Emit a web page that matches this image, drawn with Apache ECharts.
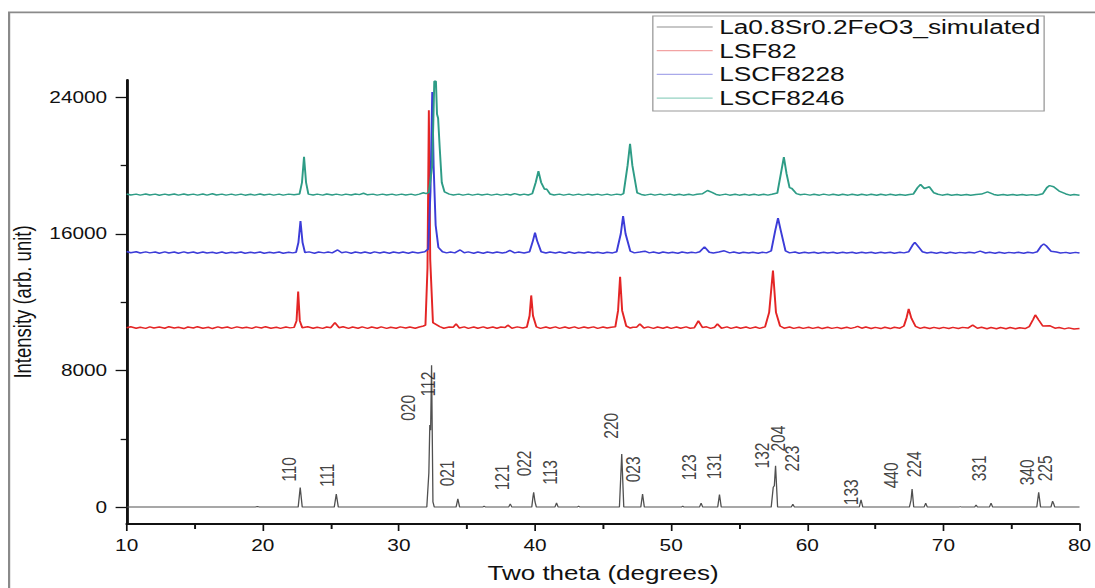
<!DOCTYPE html>
<html><head><meta charset="utf-8">
<script src="https://cdn.jsdelivr.net/npm/echarts@6/dist/echarts.min.js"></script>
<style>
html,body{margin:0;padding:0;background:#fff;overflow:hidden;width:1095px;height:588px}
#wrap{width:1095px;height:588px;overflow:hidden;position:relative;background:#fff}
#chart{width:842px;height:588px;transform:scaleX(1.30047);transform-origin:0 0;}
</style></head><body><div id="wrap"><div id="chart"></div></div>
<script>
// ---------------- data (2θ in degrees, intensity in arb. units) ----------------
const seriesNames = ['La0.8Sr0.2FeO3_simulated', 'LSF82', 'LSCF8228', 'LSCF8246'];

const simulated = [[10,0],[19.45,0],[19.6,30],[19.75,0],[22.6,0],[22.75,1150],[22.9,0],[25.25,0],[25.4,760],[25.55,0],
[32.05,0],[32.2,2000],[32.27,4800],[32.33,4500],[32.4,8300],[32.5,300],[32.6,0],[34.2,0],[34.33,480],[34.46,0],
[36.15,0],[36.26,60],[36.37,0],[38.06,0],[38.18,190],[38.3,0],[39.76,0],[39.85,600],[39.9,870],[40.0,300],[40.1,0],
[41.46,0],[41.58,250],[41.7,0],[43.1,0],[43.2,50],[43.3,0],[46.2,0],[46.37,3100],[46.52,0],[47.77,0],[47.9,770],[48.03,0],
[50.75,0],[50.85,60],[50.95,0],[52.08,0],[52.2,230],[52.32,0],[53.42,0],[53.55,740],[53.68,0],
[57.35,0],[57.5,1160],[57.58,1250],[57.67,2420],[57.82,0],[58.82,0],[58.94,170],[59.06,0],[63.82,0],[63.95,430],[64.08,0],
[67.5,0],[67.62,400],[67.7,1060],[67.82,0],[68.58,0],[68.7,230],[68.82,0],[71.14,0],[71.24,30],[71.34,0],
[72.3,0],[72.4,120],[72.5,0],[73.38,0],[73.5,230],[73.62,0],[76.86,0],[77.0,870],[77.14,0],[77.9,0],[78.02,350],[78.1,200],[78.18,0],[80,0]];

const lsf82 = [[10,10500],[10.3,10560],[10.7,10470],[11,10530],[11.4,10460],[11.7,10550],[12,10480],[12.4,10540],[12.8,10470],[13.1,10560],[13.5,10480],[13.8,10530],[14.2,10450],[14.5,10540],[14.9,10480],[15.2,10560],[15.6,10470],[16,10530],[16.3,10450],[16.7,10550],[17,10480],[17.4,10540],[17.7,10460],[18.1,10550],[18.5,10480],[18.8,10530],[19.2,10460],[19.5,10550],[19.9,10480],[20.2,10560],[20.6,10470],[21,10530],[21.3,10460],[21.7,10540],[22,10490],
[22.3,10520],[22.48,10900],[22.6,12620],[22.72,10900],[22.9,10500],[23.3,10560],[23.7,10470],[24,10530],[24.4,10460],[24.7,10540],[25.0,10500],[25.3,10800],[25.6,10500],[25.9,10560],[26.3,10460],[26.6,10540],[27,10470],[27.3,10550],[27.7,10460],[28,10540],[28.4,10470],[28.7,10550],[29.1,10460],[29.4,10530],[29.8,10470],[30.1,10550],[30.5,10480],[30.8,10540],[31.2,10470],[31.5,10540],[31.8,10600],
[31.95,10650],[32.1,14000],[32.2,23230],[32.3,14500],[32.5,10800],[33,10560],[33.3,10470],[33.7,10540],
[34.0,10530],[34.2,10720],[34.45,10480],[34.8,10550],[35.1,10460],[35.5,10540],[35.8,10470],[36.2,10550],[36.5,10470],[36.9,10540],[37.2,10470],[37.5,10540],[37.8,10510],[38.0,10650],[38.3,10470],[38.7,10550],[39.1,10480],
[39.4,10540],[39.6,11200],[39.72,12390],[39.85,11200],[40.1,10550],[40.4,10460],[40.8,10540],[41.1,10470],[41.5,10550],[41.8,10460],[42.2,10540],[42.5,10470],[42.9,10550],[43.2,10460],[43.6,10540],[43.9,10480],[44.3,10550],[44.6,10460],[45,10540],[45.3,10480],[45.6,10530],
[45.9,10550],[46.1,11500],[46.25,13480],[46.4,11500],[46.7,10600],[47.0,10480],[47.2,10530],[47.45,10520],[47.7,10720],[48,10480],[48.3,10550],[48.7,10460],[49,10540],[49.4,10470],[49.7,10540],
[50,10460],[50.4,10540],[50.7,10470],[51.1,10550],[51.4,10470],[51.7,10500],[52.0,10900],[52.3,10510],[52.6,10550],[52.9,10460],[53.2,10530],[53.4,10720],[53.7,10470],[54.1,10550],[54.4,10460],[54.8,10540],[55.1,10470],[55.5,10540],[55.8,10460],[56.2,10540],[56.5,10460],[56.9,10550],
[57.2,11400],[57.48,13850],[57.7,11400],[58.0,10600],[58.3,10470],[58.7,10540],[59,10460],[59.4,10530],[59.7,10460],[60.1,10530],[60.4,10460],[60.8,10530],[61.1,10450],[61.5,10530],[61.8,10460],[62.2,10520],[62.5,10450],[62.9,10530],[63.2,10460],[63.5,10520],[63.7,10580],[64,10470],[64.3,10540],[64.7,10450],[65,10520],[65.4,10450],[65.7,10530],[66.1,10450],[66.4,10530],[66.8,10470],
[67.1,10600],[67.3,11100],[67.45,11600],[67.65,11050],[67.95,10580],[68.3,10460],[68.6,10530],[69,10450],[69.3,10520],[69.7,10450],[70,10520],[70.4,10450],[70.7,10520],[71.1,10450],[71.4,10520],[71.8,10480],[72.15,10650],[72.5,10470],
[72.8,10530],[73.2,10440],[73.5,10510],[73.9,10440],[74.2,10510],[74.6,10440],[74.9,10510],[75.3,10440],[75.6,10500],[76,10450],[76.3,10560],[76.6,11000],[76.75,11250],[77.0,10950],[77.3,10600],[77.8,10620],[78.2,10470],[78.5,10510],[78.9,10430],[79.2,10490],[79.6,10420],[80,10460]];

const lscf8228 = [[10,14960],[10.3,14890],[10.7,14950],[11,14870],[11.4,14940],[11.7,14880],[12.1,14930],[12.4,14860],[12.8,14940],[13.1,14870],[13.5,14930],[13.8,14860],[14.2,14940],[14.5,14870],[14.9,14930],[15.2,14860],[15.6,14930],[15.9,14870],[16.3,14920],[16.6,14860],[17,14930],[17.3,14860],[17.7,14920],[18,14870],[18.4,14930],[18.7,14860],[19.1,14920],[19.4,14870],[19.8,14930],[20.1,14860],[20.5,14920],[20.8,14870],[21.2,14930],[21.5,14860],[21.9,14920],[22.2,14880],
[22.45,14920],[22.62,15500],[22.77,16750],[22.92,15500],[23.1,14900],[23.4,14940],[23.8,14860],[24.1,14930],[24.5,14880],[24.8,14930],[25.1,14880],[25.5,15050],[25.8,14890],[26.1,14940],[26.5,14860],[26.8,14930],[27.2,14870],[27.5,14930],[27.9,14860],[28.2,14940],[28.6,14870],[28.9,14930],[29.3,14860],[29.6,14930],[30,14870],[30.3,14930],[30.7,14860],[31,14930],[31.4,14870],[31.7,14920],[31.9,14950],
[32.15,15100],[32.32,18500],[32.45,24290],[32.55,20000],[32.7,16500],[32.9,15200],[33.2,14950],[33.5,14880],[33.8,14930],[34.1,14880],
[34.5,15050],[34.8,14890],[35.1,14940],[35.5,14860],[35.8,14930],[36.2,14860],[36.5,14930],[36.9,14870],[37.2,14930],[37.6,14870],[37.9,14920],[38.15,15020],[38.5,14880],[38.8,14930],[39.2,14870],
[39.6,14950],[39.85,15600],[40.0,16070],[40.15,15600],[40.45,14950],[40.8,14870],[41.1,14930],[41.5,14870],[41.8,14930],[42.2,14860],[42.5,14930],[42.9,14860],[43.2,14920],[43.6,14870],[43.9,14930],[44.3,14870],[44.6,14920],[45,14860],[45.3,14920],[45.7,14880],
[46.0,14950],[46.3,16000],[46.47,17040],[46.65,16000],[47.0,14980],[47.3,14880],[47.7,14930],[48.07,14980],[48.4,14880],[48.7,14930],[49.1,14860],[49.4,14930],[49.8,14870],
[50.1,14920],[50.5,14860],[50.8,14930],[51.2,14870],[51.5,14920],[51.8,14880],[52.1,14950],[52.45,15230],[52.8,14920],[53.1,14870],[53.5,14930],[53.9,15000],[54.3,14880],[54.6,14930],[55,14860],[55.3,14920],[55.7,14870],[56,14920],[56.4,14860],[56.7,14920],[57.0,14880],
[57.35,15000],[57.65,16200],[57.85,16910],[58.05,16200],[58.4,15000],[58.7,14880],[59.1,14930],[59.4,14860],[59.8,14920],[60.1,14870],[60.5,14920],[60.8,14860],[61.2,14920],[61.5,14870],[61.9,14920],[62.2,14860],[62.6,14920],[62.9,14870],[63.3,14920],[63.6,14860],[64,14920],[64.3,14870],[64.7,14920],[65,14860],[65.4,14920],[65.7,14870],[66.1,14920],[66.4,14860],[66.8,14920],[67.1,14880],
[67.45,14950],[67.75,15350],[67.9,15500],[68.1,15300],[68.45,14950],[68.8,14870],[69.1,14920],[69.5,14860],[69.8,14920],[70.2,14860],[70.5,14920],[70.9,14860],[71.2,14910],[71.6,14870],[71.9,14920],[72.3,14880],[72.7,14980],[73.1,14870],[73.4,14920],[73.8,14860],[74.1,14920],[74.5,14860],[74.8,14910],[75.2,14870],[75.5,14920],[75.9,14860],[76.2,14920],[76.6,14880],
[76.9,14950],[77.2,15300],[77.37,15400],[77.55,15300],[77.9,14980],[78.3,14930],[78.6,14870],[79,14910],[79.3,14860],[79.7,14910],[80,14870]];

const lscf8246 = [[10,18330],[10.3,18270],[10.7,18320],[11,18260],[11.4,18330],[11.7,18270],[12.1,18320],[12.4,18250],[12.8,18320],[13.1,18270],[13.5,18330],[13.8,18260],[14.2,18330],[14.5,18270],[14.9,18320],[15.2,18260],[15.6,18330],[15.9,18260],[16.3,18340],[16.6,18270],[17,18320],[17.3,18260],[17.7,18320],[18,18260],[18.4,18320],[18.7,18260],[19.1,18310],[19.4,18260],[19.8,18330],[20.1,18270],[20.5,18320],[20.8,18260],[21.2,18320],[21.5,18260],[21.9,18320],[22.3,18280],
[22.7,18330],[22.88,19000],[23.03,20510],[23.18,19000],[23.35,18320],[23.7,18270],[24,18320],[24.4,18260],[24.7,18330],[25.1,18270],[25.4,18320],[25.8,18260],[26.1,18320],[26.5,18270],[26.8,18330],[27.1,18290],[27.4,18370],[27.7,18280],[28.1,18320],[28.4,18260],[28.8,18320],[29.1,18270],[29.5,18320],[29.8,18260],[30.2,18320],[30.5,18270],[30.9,18320],[31.2,18260],[31.5,18320],[31.8,18400],[32.0,18350],
[32.2,18420],[32.45,20000],[32.6,24930],[32.72,24930],[32.8,23000],[32.88,22760],[33.0,21000],[33.15,19000],[33.35,18450],[33.7,18320],
[34,18270],[34.4,18320],[34.7,18260],[35.1,18320],[35.4,18260],[35.8,18320],[36.1,18270],[36.5,18320],[36.8,18260],[37.2,18320],[37.5,18260],[37.9,18320],[38.2,18270],[38.5,18350],[38.9,18270],[39.2,18320],[39.5,18270],[39.8,18350],
[40.05,19000],[40.25,19660],[40.45,19000],[40.7,18600],[40.85,18620],[41.1,18330],[41.4,18270],[41.8,18320],[42.1,18260],[42.5,18320],[42.8,18260],[43.2,18320],[43.5,18260],[43.9,18320],[44.2,18270],[44.6,18320],[44.9,18260],[45.3,18320],[45.6,18260],[46,18320],[46.3,18280],
[46.5,18350],[46.8,20000],[46.98,21270],[47.15,20000],[47.5,18400],[47.8,18300],[48.1,18260],[48.5,18320],[48.8,18260],[49.2,18320],[49.5,18260],[49.9,18320],[50.2,18260],[50.6,18310],[50.9,18260],[51.3,18310],[51.6,18260],[51.9,18310],
[52.3,18340],[52.67,18530],[53.0,18420],[53.3,18300],[53.6,18260],[54,18320],[54.3,18260],[54.7,18310],[55,18260],[55.4,18310],[55.7,18260],[56.1,18310],[56.4,18260],[56.8,18310],[57.1,18260],[57.4,18310],
[57.8,18380],[58.1,19700],[58.28,20490],[58.48,19500],[58.7,18700],[58.87,18650],[59.2,18350],[59.5,18280],
[59.8,18320],[60.2,18260],[60.5,18310],[60.9,18260],[61.2,18320],[61.6,18260],[61.9,18310],[62.3,18250],[62.6,18310],[63,18260],[63.3,18310],[63.7,18250],[64,18310],[64.4,18260],[64.7,18310],[65.1,18250],[65.4,18310],[65.8,18260],[66.1,18310],[66.5,18260],[66.8,18300],[67.2,18260],[67.5,18300],[67.8,18330],
[68.1,18700],[68.32,18880],[68.6,18650],[68.97,18750],[69.3,18400],[69.6,18310],[69.9,18260],[70.3,18310],[70.6,18250],[71,18300],[71.3,18250],[71.7,18300],[72,18250],[72.4,18300],[72.8,18320],[73.24,18450],[73.7,18300],[74,18250],[74.4,18300],[74.7,18250],[75.1,18300],[75.4,18250],[75.8,18300],[76.1,18250],[76.5,18290],[76.8,18250],[77.0,18280],[77.3,18340],
[77.6,18700],[77.8,18820],[78.1,18750],[78.5,18500],[79,18330],[79.3,18260],[79.6,18300],[80,18260]];

// Miller-index annotations: label text, 2θ position, intensity level of label centre
const hklText  = ['110','111','020','112','021','121','022','113','220','023','123','131','132','204','223','133','440','224','331','340','225'];
const hklTheta = [21.92,24.71,30.67,32.13,33.59,37.6,39.18,41.12,45.62,47.2,51.33,53.16,56.68,57.9,58.87,63.25,66.16,67.87,72.61,76.13,77.47];
const hklLevel = [2207,1858,5807,7201,1974,1742,2555,2032,4762,2207,2323,2381,3020,4007,2845,871,1858,2497,2265,2032,2265];

const yTicks = [0, 8000, 16000, 24000];
const yMinorTicks = [4000, 12000, 20000];
const xMin = 10, xMax = 80, xStep = 10;
const yMin = -990, yMax = 25000;

// ---------------- chart ----------------
const FONT = '"Liberation Sans", Arial, Helvetica, sans-serif';
const lineColors = ['#505050', '#e42525', '#3c3cd8', '#2e9c86'];
const legendColors = ['#b4b4b4', '#f2a3a3', '#a9a9ea', '#94d2c2'];
const seriesData = [simulated, lsf82, lscf8228, lscf8246];

const chart = echarts.init(document.getElementById('chart'), null, {renderer: 'svg'});

const lineSeries = seriesNames.map((n, i) => ({
  name: n, type: 'line', data: seriesData[i], symbol: 'none', showSymbol: false,
  lineStyle: {color: lineColors[i], width: i === 0 ? 1 : 1.5},
  itemStyle: {color: lineColors[i]},
  clip: false, z: i === 0 ? 3 : 2, silent: true
}));

const hklSeries = {
  name: 'hkl', type: 'scatter', silent: true, z: 6,
  data: hklText.map((t, i) => [hklTheta[i], hklLevel[i], t]),
  symbolSize: 1, itemStyle: {color: 'rgba(0,0,0,0)'},
  label: {show: true, position: 'inside', rotate: 90, formatter: p => p.data[2],
          fontSize: 15.5, color: '#111', fontFamily: FONT}
};

chart.setOption({
  animation: false,
  backgroundColor: '#fff',
  grid: {left: 94.85, right: 9.2, top: 80, bottom: 61, containLabel: false},
  graphic: [{type: 'rect', silent: true, z: -10,
    shape: {x: 7, y: 12.3, width: 900, height: 700},
    style: {fill: 'none', stroke: '#8a8a8a', lineWidth: 1.7}}],
  legend: {
    orient: 'vertical', left: 502, top: 16,
    icon: 'rect',
    data: seriesNames.map((n, i) => ({name: n, itemStyle: {color: legendColors[i]}})),
    itemWidth: 43, itemHeight: 1.3, itemGap: 3.7,
    padding: [1, 3, 3, 3],
    borderColor: '#9a9a9a', borderWidth: 1, backgroundColor: '#fff',
    textStyle: {fontSize: 20.2, color: '#111', fontFamily: FONT, lineHeight: 20},
    selectedMode: false
  },
  xAxis: {
    type: 'value', min: xMin, max: xMax, interval: xStep,
    axisLine: {show: true, onZero: false, lineStyle: {color: '#111', width: 2}},
    axisTick: {show: true, length: 7, lineStyle: {color: '#111', width: 1.3}},
    minorTick: {show: true, splitNumber: 2, length: 5, lineStyle: {color: '#111', width: 1.5}},
    axisLabel: {fontSize: 16, color: '#111', margin: 13, fontFamily: FONT},
    splitLine: {show: false},
    name: 'Two theta (degrees)', nameLocation: 'middle', nameGap: 39,
    nameTextStyle: {fontSize: 20, color: '#111', fontFamily: FONT}
  },
  yAxis: [{
    type: 'value', min: yMin, max: yMax,
    axisLine: {show: true, onZero: false, lineStyle: {color: '#111', width: 2.2}},
    axisTick: {show: true, length: 8.5, customValues: yTicks, lineStyle: {color: '#111', width: 1.3}},
    axisLabel: {customValues: yTicks, formatter: v => String(v), fontSize: 16, color: '#111', margin: 15, fontFamily: FONT},
    splitLine: {show: false},
    name: 'Intensity (arb. unit)', nameLocation: 'middle', nameGap: 61,
    nameTextStyle: {fontSize: 18.5, color: '#111', fontFamily: FONT}
  }, {
    type: 'value', min: yMin, max: yMax, position: 'left', offset: 0,
    axisLine: {show: false},
    axisTick: {show: true, length: 4.6, customValues: yMinorTicks, lineStyle: {color: '#111', width: 1.3}},
    axisLabel: {show: false}, splitLine: {show: false}
  }],
  series: [...lineSeries, hklSeries]
});
</script></body></html>
